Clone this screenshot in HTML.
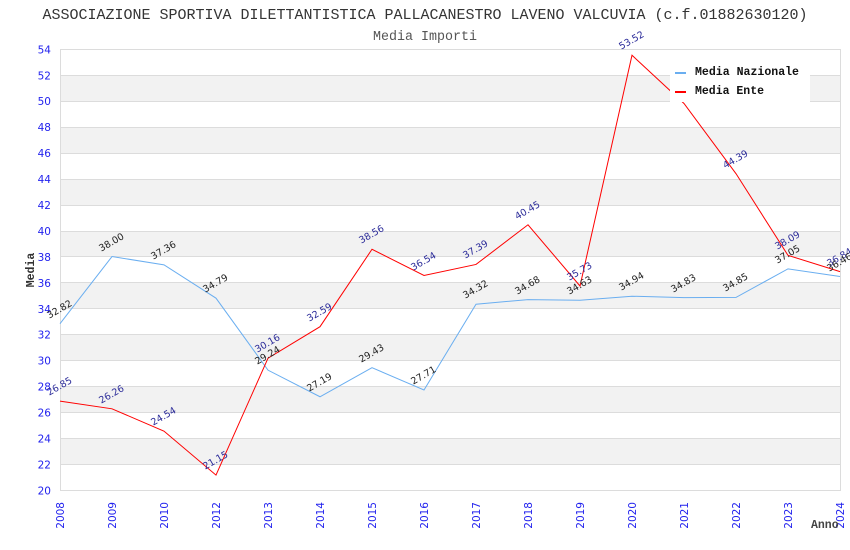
<!DOCTYPE html>
<html>
<head>
<meta charset="utf-8">
<style>
html,body{margin:0;padding:0;background:#fff;}
svg{display:block;}
.yt{font-family:"DejaVu Sans",sans-serif;font-size:10.5px;fill:#2222ee;text-anchor:end;}
.xt{font-family:"DejaVu Sans",sans-serif;font-size:10.5px;fill:#2222ee;text-anchor:end;}
.ln{font-family:"DejaVu Sans",sans-serif;font-size:9.5px;fill:#222;text-anchor:middle;}
.le{font-family:"DejaVu Sans",sans-serif;font-size:9.5px;fill:#2b2b99;text-anchor:middle;}
.mono{font-family:"Liberation Mono","DejaVu Sans Mono",monospace;}
</style>
</head>
<body>
<svg width="850" height="550" viewBox="0 0 850 550" xmlns="http://www.w3.org/2000/svg">
<rect width="850" height="550" fill="#fff"/>
<!-- title -->
<text class="mono" x="425" y="19" font-size="14.5" fill="#333" text-anchor="middle" textLength="765" lengthAdjust="spacingAndGlyphs">ASSOCIAZIONE SPORTIVA DILETTANTISTICA PALLACANESTRO LAVENO VALCUVIA (c.f.01882630120)</text>
<text class="mono" x="425" y="40" font-size="13.5" fill="#555" text-anchor="middle" textLength="104" lengthAdjust="spacingAndGlyphs">Media Importi</text>

<!-- bands -->
<g fill="#f2f2f2">
<rect x="60" y="75" width="780" height="26"/>
<rect x="60" y="127" width="780" height="26"/>
<rect x="60" y="179" width="780" height="26"/>
<rect x="60" y="231" width="780" height="26"/>
<rect x="60" y="282" width="780" height="26"/>
<rect x="60" y="334" width="780" height="26"/>
<rect x="60" y="386" width="780" height="26"/>
<rect x="60" y="438" width="780" height="26"/>
</g>
<!-- grid -->
<g stroke="#dcdcdc" stroke-width="1">
<line x1="60" y1="49.5" x2="840" y2="49.5"/>
<line x1="60" y1="75.5" x2="840" y2="75.5"/>
<line x1="60" y1="101.5" x2="840" y2="101.5"/>
<line x1="60" y1="127.5" x2="840" y2="127.5"/>
<line x1="60" y1="153.5" x2="840" y2="153.5"/>
<line x1="60" y1="179.5" x2="840" y2="179.5"/>
<line x1="60" y1="205.5" x2="840" y2="205.5"/>
<line x1="60" y1="231.5" x2="840" y2="231.5"/>
<line x1="60" y1="256.5" x2="840" y2="256.5"/>
<line x1="60" y1="282.5" x2="840" y2="282.5"/>
<line x1="60" y1="308.5" x2="840" y2="308.5"/>
<line x1="60" y1="334.5" x2="840" y2="334.5"/>
<line x1="60" y1="360.5" x2="840" y2="360.5"/>
<line x1="60" y1="386.5" x2="840" y2="386.5"/>
<line x1="60" y1="412.5" x2="840" y2="412.5"/>
<line x1="60" y1="438.5" x2="840" y2="438.5"/>
<line x1="60" y1="464.5" x2="840" y2="464.5"/>
<line x1="60" y1="490.5" x2="840" y2="490.5"/>
<line x1="60.5" y1="49" x2="60.5" y2="491"/>
<line x1="840.5" y1="49" x2="840.5" y2="491"/>
</g>

<!-- y ticks -->
<g class="yt">
<text x="51" y="53.3">54</text>
<text x="51" y="79.3">52</text>
<text x="51" y="105.2">50</text>
<text x="51" y="131.1">48</text>
<text x="51" y="157.1">46</text>
<text x="51" y="183">44</text>
<text x="51" y="209">42</text>
<text x="51" y="234.9">40</text>
<text x="51" y="260.9">38</text>
<text x="51" y="286.8">36</text>
<text x="51" y="312.8">34</text>
<text x="51" y="338.7">32</text>
<text x="51" y="364.7">30</text>
<text x="51" y="390.6">28</text>
<text x="51" y="416.6">26</text>
<text x="51" y="442.5">24</text>
<text x="51" y="468.5">22</text>
<text x="51" y="494.4">20</text>
</g>

<!-- x ticks -->
<g class="xt">
<text transform="translate(64,502) rotate(-90)">2008</text>
<text transform="translate(116,502) rotate(-90)">2009</text>
<text transform="translate(168,502) rotate(-90)">2010</text>
<text transform="translate(220,502) rotate(-90)">2012</text>
<text transform="translate(272,502) rotate(-90)">2013</text>
<text transform="translate(324,502) rotate(-90)">2014</text>
<text transform="translate(376,502) rotate(-90)">2015</text>
<text transform="translate(428,502) rotate(-90)">2016</text>
<text transform="translate(480,502) rotate(-90)">2017</text>
<text transform="translate(532,502) rotate(-90)">2018</text>
<text transform="translate(584,502) rotate(-90)">2019</text>
<text transform="translate(636,502) rotate(-90)">2020</text>
<text transform="translate(688,502) rotate(-90)">2021</text>
<text transform="translate(740,502) rotate(-90)">2022</text>
<text transform="translate(792,502) rotate(-90)">2023</text>
<text transform="translate(844,502) rotate(-90)">2024</text>
</g>

<!-- axis titles -->
<text class="mono" transform="translate(34,270) rotate(-90)" font-size="11.5" font-weight="bold" fill="#333" text-anchor="middle">Media</text>
<text class="mono" x="811" y="528" font-size="11.5" font-weight="bold" fill="#444">Anno</text>

<!-- series -->
<polyline fill="none" stroke="#6aaef0" stroke-width="1" points="60,323.72 112,256.54 164,264.84 216,298.17 268,370.16 320,396.75 372,367.69 424,390 476,304.27 528,299.6 580,300.25 632,296.23 684,297.65 736,297.4 788,268.86 840,276.51"/>
<polyline fill="none" stroke="#ff0000" stroke-width="1" points="60,401.16 112,408.81 164,431.12 216,475.08 268,358.22 320,326.71 372,249.28 424,275.48 476,264.45 528,224.76 580,285.98 632,55.25 684,103.49 736,173.66 788,255.37 840,271.59"/>

<!-- Ente labels -->
<g class="le">
<text transform="translate(61,389) rotate(-30)">26.85</text>
<text transform="translate(113,397) rotate(-30)">26.26</text>
<text transform="translate(165,419) rotate(-30)">24.54</text>
<text transform="translate(217,463) rotate(-30)">21.15</text>
<text transform="translate(269,346) rotate(-30)">30.16</text>
<text transform="translate(321,315) rotate(-30)">32.59</text>
<text transform="translate(373,237) rotate(-30)">38.56</text>
<text transform="translate(425,264) rotate(-30)">36.54</text>
<text transform="translate(477,252) rotate(-30)">37.39</text>
<text transform="translate(529,213) rotate(-30)">40.45</text>
<text transform="translate(581,274) rotate(-30)">35.73</text>
<text transform="translate(633,43) rotate(-30)">53.52</text>
<text transform="translate(685,91) rotate(-30)">49.80</text>
<text transform="translate(737,162) rotate(-30)">44.39</text>
<text transform="translate(789,243) rotate(-30)">38.09</text>
<text transform="translate(841,260) rotate(-30)">36.84</text>
</g>
<!-- Nazionale labels -->
<g class="ln">
<text transform="translate(61,312) rotate(-30)">32.82</text>
<text transform="translate(113,245) rotate(-30)">38.00</text>
<text transform="translate(165,253) rotate(-30)">37.36</text>
<text transform="translate(217,286) rotate(-30)">34.79</text>
<text transform="translate(269,358) rotate(-30)">29.24</text>
<text transform="translate(321,385) rotate(-30)">27.19</text>
<text transform="translate(373,356) rotate(-30)">29.43</text>
<text transform="translate(425,378) rotate(-30)">27.71</text>
<text transform="translate(477,292) rotate(-30)">34.32</text>
<text transform="translate(529,288) rotate(-30)">34.68</text>
<text transform="translate(581,288) rotate(-30)">34.63</text>
<text transform="translate(633,284) rotate(-30)">34.94</text>
<text transform="translate(685,286) rotate(-30)">34.83</text>
<text transform="translate(737,285) rotate(-30)">34.85</text>
<text transform="translate(789,257) rotate(-30)">37.05</text>
<text transform="translate(841,265) rotate(-30)">36.46</text>
</g>

<!-- legend -->
<rect x="670" y="58" width="140" height="44" fill="#fff"/>
<rect x="675" y="72" width="11" height="2" fill="#6aaef0"/>
<rect x="675" y="91" width="11" height="2" fill="#ff0000"/>
<text class="mono" x="695" y="75" font-size="11.5" font-weight="bold" fill="#111" textLength="104" lengthAdjust="spacingAndGlyphs">Media Nazionale</text>
<text class="mono" x="695" y="94" font-size="11.5" font-weight="bold" fill="#111" textLength="69" lengthAdjust="spacingAndGlyphs">Media Ente</text>
</svg>
</body>
</html>
